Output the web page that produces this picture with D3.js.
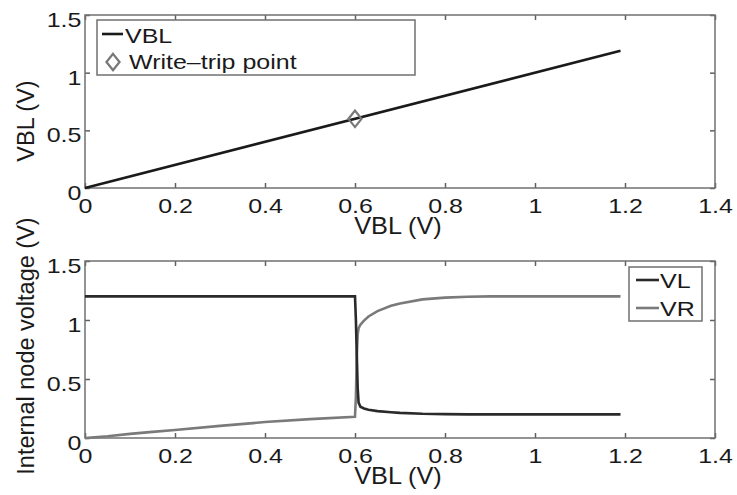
<!DOCTYPE html>
<html lang="en">
<head>
  <meta charset="UTF-8">
  <title>Write-trip point</title>
  <style>
      body { margin: 0; background: #fff; }
      text { font-family: "Liberation Sans", Arial, sans-serif; fill: #1a1a1a; }
      .frame { fill: none; stroke: #707070; stroke-width: 1.5; }
      .axis path { stroke: none; }
      .axis line { stroke: #606060; stroke-width: 1.5; }
      .axis text { font-size: 21px; }
  </style>
</head>
<body>
<div id="chart"></div>
<script src="https://d3js.org/d3.v7.min.js"></script>
<script>
  // tick values
  const xTicks = [0, 0.2, 0.4, 0.6, 0.8, 1, 1.2, 1.4];
  const yTicks = [0, 0.5, 1, 1.5];

  // top panel: VBL vs VBL and the write-trip point
  const vblX = [0, 1.19];
  const vblY = [0, 1.19];
  const tripX = [0.6];
  const tripY = [0.6];

  // bottom panel: internal node voltages
  const sweep = [0, 0.05, 0.1, 0.15, 0.2, 0.3, 0.4, 0.5, 0.6,
    0.602, 0.604, 0.606, 0.608, 0.612, 0.62, 0.63, 0.65, 0.68, 0.7,
    0.75, 0.8, 0.85, 0.9, 1.0, 1.1, 1.19];
  const vl = [1.2, 1.2, 1.2, 1.2, 1.2, 1.2, 1.2, 1.2, 1.2,
    1.0, 0.7, 0.42, 0.3, 0.265, 0.25, 0.24, 0.228, 0.218, 0.213,
    0.205, 0.202, 0.2, 0.2, 0.2, 0.2, 0.2];
  const vr = [0, 0.015, 0.035, 0.052, 0.068, 0.103, 0.135, 0.16, 0.18,
    0.35, 0.7, 0.88, 0.93, 0.96, 0.995, 1.03, 1.075, 1.12, 1.14,
    1.175, 1.19, 1.197, 1.2, 1.2, 1.2, 1.2];

  const W = 737, H = 495;
  const svg = d3.select("#chart").append("svg")
    .attr("width", W)
    .attr("height", H);

  const SX = 1.19; // the source picture is stretched sideways

  function panel(top, bottom, yLabel, yLabelY, yLabelSize) {
    const left = 85, right = 715;
    const x = d3.scaleLinear().domain([0, 1.4]).range([left, right]);
    const y = d3.scaleLinear().domain([0, 1.5]).range([bottom, top]);

    svg.append("g").attr("class", "axis")
      .attr("transform", `translate(0,${bottom})`)
      .call(d3.axisBottom(x).tickValues(xTicks).tickSize(-5).tickPadding(10).tickFormat(d3.format("~g")))
      .selectAll("text").attr("transform", `scale(${SX},1)`);
    svg.append("g").attr("class", "axis")
      .attr("transform", `translate(0,${top})`)
      .call(d3.axisTop(x).tickValues(xTicks).tickSize(-5).tickFormat(""));
    svg.append("g").attr("class", "axis")
      .attr("transform", `translate(${left},0)`)
      .call(d3.axisLeft(y).tickValues(yTicks).tickSize(-5).tickPadding(3).tickFormat(d3.format("~g")))
      .selectAll("text").attr("dy", "0.55em").attr("transform", `scale(${SX},1)`);
    svg.append("g").attr("class", "axis")
      .attr("transform", `translate(${right},0)`)
      .call(d3.axisRight(y).tickValues(yTicks).tickSize(-5).tickFormat(""));

    svg.append("rect").attr("class", "frame")
      .attr("x", left).attr("y", top)
      .attr("width", right - left).attr("height", bottom - top);

    svg.append("text")
      .attr("transform", `translate(398,${bottom + 46}) scale(1.1,1)`)
      .attr("text-anchor", "middle")
      .style("font-size", "23px")
      .text("VBL (V)");

    svg.append("text")
      .attr("transform", `translate(34,${yLabelY}) rotate(-90)`)
      .attr("text-anchor", "middle")
      .style("font-size", yLabelSize)
      .text(yLabel);

    return {x, y};
  }

  function legendText(x, y, label) {
    svg.append("text")
      .attr("transform", `translate(${x},${y}) scale(${SX},1)`)
      .style("font-size", "21px")
      .text(label);
  }

  // ---- top panel
  const p1 = panel(15, 188, "VBL (V)", 121, "23.5px");

  svg.append("path")
    .datum(vblX.map((d, i) => [d, vblY[i]]))
    .attr("fill", "none")
    .attr("stroke", "#1a1a1a")
    .attr("stroke-width", 2.6)
    .attr("d", d3.line().x(d => p1.x(d[0])).y(d => p1.y(d[1])));

  const diamond = d3.symbol().type(d3.symbolDiamond2).size(110);
  svg.selectAll(".trip")
    .data(tripX)
    .enter().append("path")
    .attr("class", "trip")
    .attr("transform", (d, i) => `translate(${p1.x(d)},${p1.y(tripY[i])}) scale(1,1.25)`)
    .attr("d", diamond)
    .attr("fill", "none")
    .attr("stroke", "#787878")
    .attr("stroke-width", 2);

  // legend
  svg.append("rect").attr("class", "frame")
    .attr("x", 97).attr("y", 20).attr("width", 318).attr("height", 55);
  svg.append("line")
    .attr("x1", 102).attr("x2", 123).attr("y1", 34).attr("y2", 34)
    .attr("stroke", "#1a1a1a").attr("stroke-width", 2.6);
  legendText(125, 43, "VBL");
  svg.append("path")
    .attr("transform", "translate(113,62) scale(1,1.25)")
    .attr("d", diamond)
    .attr("fill", "none")
    .attr("stroke", "#787878")
    .attr("stroke-width", 2);
  legendText(129, 69, "Write\u2013trip point");

  // ---- bottom panel
  const p2 = panel(261, 438, "Internal node voltage (V)", 346, "23.5px");

  const line2 = vals => d3.line()
    .x((d, i) => p2.x(sweep[i]))
    .y(d => p2.y(d))(vals);

  svg.append("path")
    .attr("d", line2(vr))
    .attr("fill", "none")
    .attr("stroke", "#7a7a7a")
    .attr("stroke-width", 2.6);
  svg.append("path")
    .attr("d", line2(vl))
    .attr("fill", "none")
    .attr("stroke", "#2a2a2a")
    .attr("stroke-width", 2.6);

  svg.append("rect").attr("class", "frame")
    .attr("x", 629).attr("y", 267).attr("width", 73).attr("height", 54);
  svg.append("line")
    .attr("x1", 636).attr("x2", 659).attr("y1", 280).attr("y2", 280)
    .attr("stroke", "#2a2a2a").attr("stroke-width", 2.6);
  legendText(660, 288, "VL");
  svg.append("line")
    .attr("x1", 636).attr("x2", 659).attr("y1", 308).attr("y2", 308)
    .attr("stroke", "#7a7a7a").attr("stroke-width", 2.6);
  legendText(660, 316, "VR");
</script>
</body>
</html>
